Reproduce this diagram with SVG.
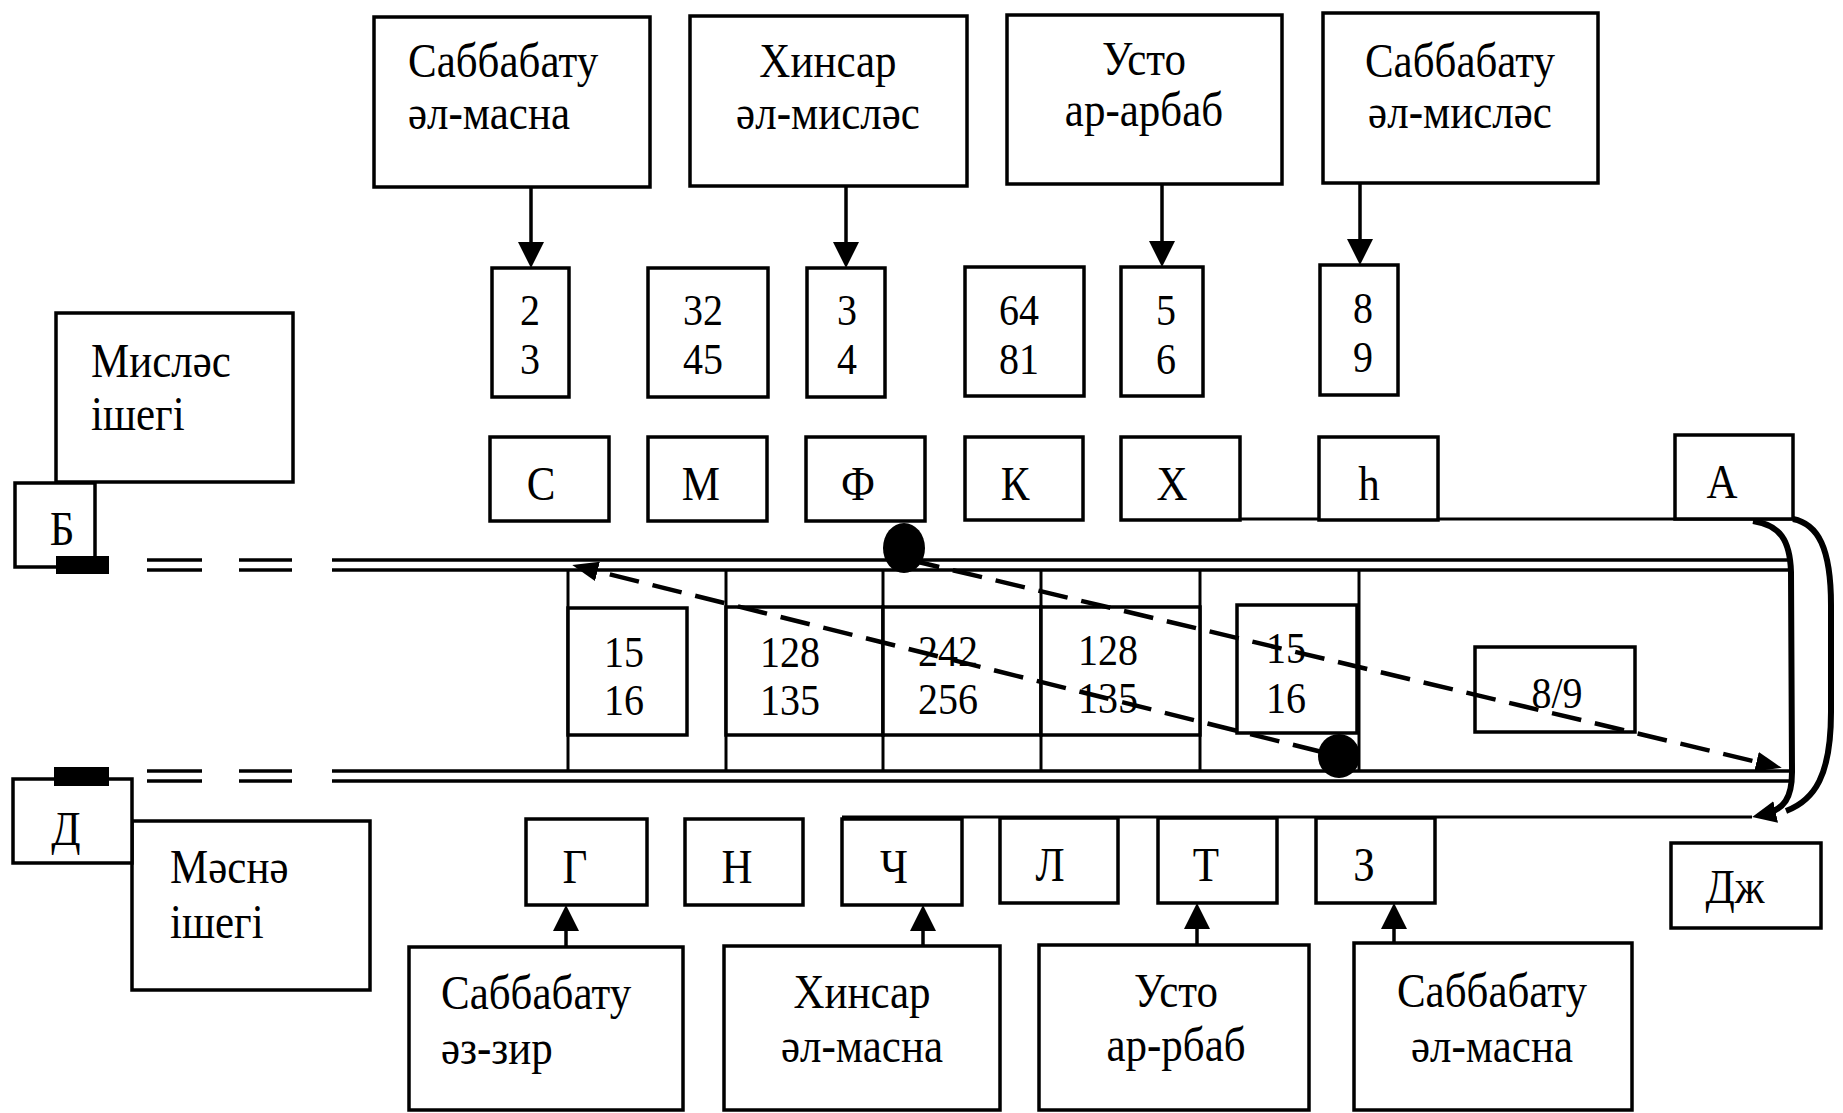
<svg xmlns="http://www.w3.org/2000/svg" width="1843" height="1113" viewBox="0 0 1843 1113">
<style>
.b{fill:#fff;stroke:#000;stroke-width:3.5}
.t{font-family:"Liberation Serif","DejaVu Serif","Times New Roman",serif;font-size:43px;fill:#000;text-anchor:middle;transform:scale(1,1.12)}
.s{text-anchor:start}
.n{font-size:40px}
.r{stroke:#000;stroke-width:3.5;fill:none}
.l{stroke:#000;stroke-width:3;fill:none}
.a{stroke:#000;stroke-width:3.5;fill:none;marker-end:url(#ah)}
.d{stroke:#000;stroke-width:4.5;stroke-dasharray:30 14;fill:none;marker-end:url(#dh)}
.k{fill:#000}
.c{stroke:#000;stroke-width:6;fill:none}
</style>
<defs>
<marker id="ah" markerUnits="userSpaceOnUse" markerWidth="26" markerHeight="26" refX="22" refY="13" orient="auto"><path d="M0,0 L26,13 L0,26 z" fill="#000"/></marker>
<marker id="dh" markerUnits="userSpaceOnUse" markerWidth="26" markerHeight="20" refX="18" refY="10" orient="auto"><path d="M0,0 L26,10 L0,20 z" fill="#000"/></marker>
<marker id="ch" markerUnits="userSpaceOnUse" markerWidth="24" markerHeight="22" refX="14" refY="11" orient="auto"><path d="M0,0 L24,11 L0,22 z" fill="#000"/></marker>
</defs>
<rect width="1843" height="1113" fill="#fff"/>

<g id="rails">
<line class="r" x1="332" y1="560" x2="1789" y2="560"/>
<line class="r" x1="332" y1="570" x2="1789" y2="570"/>
<line class="r" x1="147" y1="560" x2="202" y2="560"/>
<line class="r" x1="147" y1="570" x2="202" y2="570"/>
<line class="r" x1="239" y1="560" x2="292" y2="560"/>
<line class="r" x1="239" y1="570" x2="292" y2="570"/>
<line class="r" x1="332" y1="771" x2="1789" y2="771"/>
<line class="r" x1="332" y1="781" x2="1789" y2="781"/>
<line class="r" x1="147" y1="771" x2="202" y2="771"/>
<line class="r" x1="147" y1="781" x2="202" y2="781"/>
<line class="r" x1="239" y1="771" x2="292" y2="771"/>
<line class="r" x1="239" y1="781" x2="292" y2="781"/>
<line class="l" x1="568" y1="570" x2="568" y2="771"/>
<line class="l" x1="726" y1="570" x2="726" y2="771"/>
<line class="l" x1="883" y1="570" x2="883" y2="771"/>
<line class="l" x1="1041" y1="570" x2="1041" y2="771"/>
<line class="l" x1="1200" y1="570" x2="1200" y2="771"/>
<line class="l" x1="1359" y1="570" x2="1359" y2="771"/>
<line class="l" x1="1121" y1="519" x2="1793" y2="519"/>
<line class="l" x1="842" y1="817" x2="1752" y2="817"/>
</g>

<g id="node-mislas"><rect class="b" x="56" y="313" width="237" height="169"/><text class="t s" x="91" y="336.6">Мисләс</text><text class="t s" x="91" y="383.9">ішегі</text></g>
<g id="node-B"><rect class="b" x="15" y="483" width="80" height="84"/><text class="t" x="62" y="486.6">Б</text></g>
<g id="node-masna"><rect class="b" x="132" y="821" width="238" height="169"/><text class="t s" x="170" y="788.4">Мәснә</text><text class="t s" x="170" y="837.5">ішегі</text></g>
<g id="node-D"><rect class="b" x="13" y="779" width="119" height="84"/><text class="t" x="66" y="754.5">Д</text></g>
<rect class="k" x="56" y="556" width="53" height="18"/>
<rect class="k" x="54" y="767" width="55" height="19"/>

<g id="node-top1"><rect class="b" x="374" y="17" width="276" height="170"/><text class="t s" x="408" y="68.75">Саббабату</text><text class="t s" x="408" y="115.2">әл-масна</text></g>
<g id="node-top2"><rect class="b" x="690" y="16" width="277" height="170"/><text class="t" x="828" y="68.75">Хинсар</text><text class="t" x="828" y="115.2">әл-мисләс</text></g>
<g id="node-top3"><rect class="b" x="1007" y="15" width="275" height="169"/><text class="t" x="1144" y="66.96">Усто</text><text class="t" x="1144" y="112.5">ар-арбаб</text></g>
<g id="node-top4"><rect class="b" x="1323" y="13" width="275" height="170"/><text class="t" x="1460" y="68.75">Саббабату</text><text class="t" x="1460" y="114.3">әл-мисләс</text></g>

<g id="node-r23"><rect class="b" x="492" y="268" width="77" height="129"/><text class="t n" x="530" y="290.2">2</text><text class="t n" x="530" y="333.9">3</text></g>
<g id="node-r3245"><rect class="b" x="648" y="268" width="120" height="129"/><text class="t n" x="703" y="290.2">32</text><text class="t n" x="703" y="333.9">45</text></g>
<g id="node-r34"><rect class="b" x="807" y="268" width="78" height="129"/><text class="t n" x="847" y="290.2">3</text><text class="t n" x="847" y="333.9">4</text></g>
<g id="node-r6481"><rect class="b" x="965" y="267" width="119" height="129"/><text class="t n" x="1019" y="290.2">64</text><text class="t n" x="1019" y="333.9">81</text></g>
<g id="node-r56"><rect class="b" x="1121" y="267" width="82" height="129"/><text class="t n" x="1166" y="290.2">5</text><text class="t n" x="1166" y="333.9">6</text></g>
<g id="node-r89"><rect class="b" x="1320" y="265" width="78" height="130"/><text class="t n" x="1363" y="288.4">8</text><text class="t n" x="1363" y="332.1">9</text></g>

<g id="node-S"><rect class="b" x="490" y="437" width="119" height="84"/><text class="t" x="541" y="446.4">С</text></g>
<g id="node-M"><rect class="b" x="648" y="437" width="119" height="84"/><text class="t" x="701" y="446.4">М</text></g>
<g id="node-F"><rect class="b" x="806" y="437" width="119" height="84"/><text class="t" x="858" y="446.4">Ф</text></g>
<g id="node-K"><rect class="b" x="965" y="437" width="118" height="83"/><text class="t" x="1015" y="446.4">К</text></g>
<g id="node-X"><rect class="b" x="1121" y="437" width="119" height="83"/><text class="t" x="1172" y="446.4">Х</text></g>
<g id="node-H"><rect class="b" x="1319" y="437" width="119" height="83"/><text class="t" x="1369" y="446.4">һ</text></g>
<g id="node-A"><rect class="b" x="1675" y="435" width="118" height="84"/><text class="t" x="1722" y="444.6">А</text></g>

<g id="node-c1516a"><rect class="b" x="568" y="608" width="119" height="127"/><text class="t n" x="624" y="595.5">15</text><text class="t n" x="624" y="638.4">16</text></g>
<g id="node-c128a"><rect class="b" x="726" y="607" width="157" height="128"/><text class="t n" x="790" y="595.5">128</text><text class="t n" x="790" y="638.4">135</text></g>
<g id="node-c242"><rect class="b" x="883" y="607" width="158" height="128"/><text class="t n" x="948" y="594.6">242</text><text class="t n" x="948" y="637.5">256</text></g>
<g id="node-c128b"><rect class="b" x="1041" y="607" width="159" height="128"/><text class="t n" x="1108" y="593.8">128</text><text class="t n" x="1108" y="636.6">135</text></g>
<g id="node-c1516b"><rect class="b" x="1237" y="605" width="120" height="128"/><text class="t n" x="1286" y="592.0">15</text><text class="t n" x="1286" y="636.6">16</text></g>
<g id="node-c89"><rect class="b" x="1475" y="647" width="160" height="85"/><text class="t n" x="1557" y="632.1">8/9</text></g>

<g id="node-G"><rect class="b" x="526" y="819" width="121" height="86"/><text class="t" x="575" y="788.4">Г</text></g>
<g id="node-N"><rect class="b" x="685" y="819" width="118" height="86"/><text class="t" x="737" y="788.4">Н</text></g>
<g id="node-Ch"><rect class="b" x="842" y="819" width="120" height="86"/><text class="t" x="894" y="788.4">Ч</text></g>
<g id="node-L"><rect class="b" x="1000" y="818" width="118" height="85"/><text class="t" x="1050" y="786.6">Л</text></g>
<g id="node-T"><rect class="b" x="1158" y="818" width="119" height="85"/><text class="t" x="1206" y="786.6">Т</text></g>
<g id="node-Z"><rect class="b" x="1316" y="818" width="119" height="85"/><text class="t" x="1364" y="786.6">З</text></g>
<g id="node-Dzh"><rect class="b" x="1671" y="843" width="150" height="85"/><text class="t" x="1735" y="806.3">Дж</text></g>

<g id="node-bot1"><rect class="b" x="409" y="947" width="274" height="163"/><text class="t s" x="441" y="900.9">Саббабату</text><text class="t s" x="441" y="950">әз-зир</text></g>
<g id="node-bot2"><rect class="b" x="724" y="946" width="276" height="164"/><text class="t" x="862" y="900">Хинсар</text><text class="t" x="862" y="948.2">әл-масна</text></g>
<g id="node-bot3"><rect class="b" x="1039" y="945" width="270" height="165"/><text class="t" x="1176" y="899.1">Усто</text><text class="t" x="1176" y="947.3">ар-рбаб</text></g>
<g id="node-bot4"><rect class="b" x="1354" y="943" width="278" height="167"/><text class="t" x="1492" y="899.1">Саббабату</text><text class="t" x="1492" y="948.2">әл-масна</text></g>

<g id="connectors">
<line class="a" x1="531" y1="187" x2="531" y2="264"/>
<line class="a" x1="846" y1="186" x2="846" y2="264"/>
<line class="a" x1="1162" y1="184" x2="1162" y2="263"/>
<line class="a" x1="1360" y1="183" x2="1360" y2="261"/>
<line class="a" x1="566" y1="947" x2="566" y2="909"/>
<line class="a" x1="923" y1="946" x2="923" y2="909"/>
<line class="a" x1="1197" y1="945" x2="1197" y2="907"/>
<line class="a" x1="1394" y1="943" x2="1394" y2="907"/>
<line class="d" x1="910" y1="560" x2="1774" y2="766"/>
<line class="d" x1="1322" y1="752" x2="580" y2="567"/>
<path class="c" d="M1793,519 C1818,524 1831,548 1831,605 L1831,712 C1831,775 1815,800 1786,811"/>
<path class="c" d="M1753,521 C1780,525 1790,540 1791,572 L1792,772 C1792,797 1785,810 1762,815" marker-end="url(#ch)"/>
</g>
<ellipse class="k" cx="904" cy="548" rx="21" ry="25"/>
<ellipse class="k" cx="1339" cy="756" rx="21" ry="22"/>
</svg>
